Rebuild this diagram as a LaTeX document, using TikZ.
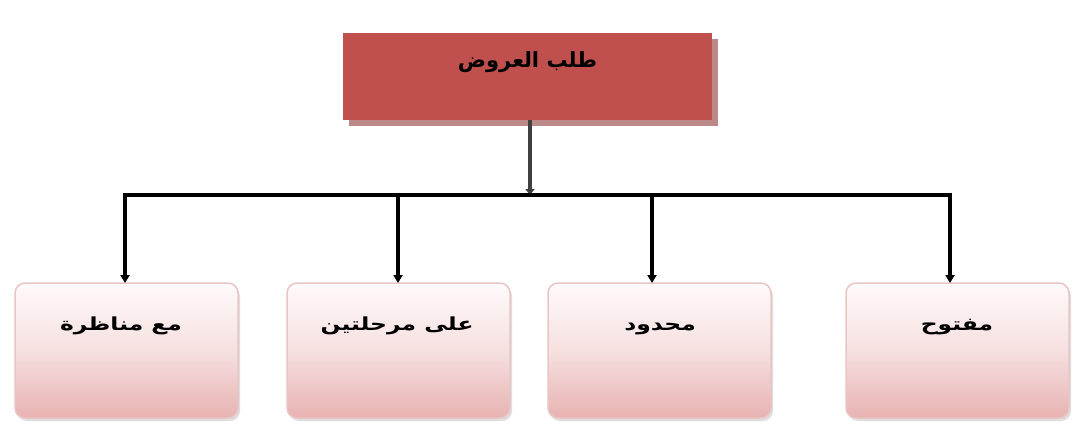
\documentclass[tikz,border=0pt]{standalone}
\usepackage{fontspec}
\newfontfamily\arabicfont[Script=Arabic]{DejaVu Sans}
\TeXXeTstate=1
\usetikzlibrary{shadows,arrows.meta}
\definecolor{topred}{HTML}{C0504D}
\definecolor{topshadow}{HTML}{8E3B39}
\definecolor{pinkbot}{HTML}{E8B2B2}
\definecolor{pinkmid}{HTML}{F6E0E0}
\definecolor{pinktop}{HTML}{FFFAFA}
\definecolor{pinkedge}{HTML}{E9C6C6}
\definecolor{linegray}{HTML}{404040}
\begin{document}
\begin{tikzpicture}[x=1pt,y=-1pt,
  headbox/.style={draw=none,fill=topred,minimum width=369pt,minimum height=87pt,inner sep=0pt,
    drop shadow={shadow xshift=6pt,shadow yshift=-6pt,fill=topshadow,opacity=0.6}},
  leafbox/.style={draw=pinkedge,line width=1.5pt,rounded corners=10pt,minimum width=223pt,minimum height=135pt,inner sep=0pt,
    top color=pinktop,bottom color=pinkbot,middle color=pinkmid,
    drop shadow={shadow xshift=2pt,shadow yshift=-3pt,fill=black!25,opacity=0.5}},
  headtext/.style={font=\arabicfont\bfseries\fontsize{21}{25}\selectfont,inner sep=0pt,anchor=base},
  leaftext/.style={font=\arabicfont\bfseries\fontsize{18}{22}\selectfont,inner sep=0pt,xscale=1.3,anchor=base},
  conn/.style={line width=3.5pt,black},
  drop/.style={line width=3.5pt,black,-{Triangle[length=8pt,width=9pt]}}]
\useasboundingbox (0,0) rectangle (1075,425);
\fill[white] (0,0) rectangle (1075,425);
% top
\node[headbox] (top) at (527.5,76.5) {};
\node[headtext] (toptext) at (527.5,68) {\beginR طلب العروض\endR};
% leaves
\node[leafbox] (l1) at (126.5,350.5) {};
\node[leafbox] (l2) at (398.5,350.5) {};
\node[leafbox] (l3) at (659.5,350.5) {};
\node[leafbox] (l4) at (957.5,350.5) {};
\node[leaftext] (t1) at (121,330) {\beginR مع مناظرة\endR};
\node[leaftext] (t2) at (397,330) {\beginR على مرحلتين\endR};
\node[leaftext] (t3) at (660,330) {\beginR محدود\endR};
\node[leaftext] (t4) at (957,330) {\beginR مفتوح\endR};
% connectors
\coordinate (hub) at (530,195);
\coordinate (hl) at (125,195);
\coordinate (hr) at (950,195);
\coordinate (d1) at (125,195);
\coordinate (d2) at (398,195);
\coordinate (d3) at (652,195);
\coordinate (d4) at (950,195);
\coordinate (e1) at (125,283);
\coordinate (e2) at (398,283);
\coordinate (e3) at (652,283);
\coordinate (e4) at (950,283);
\draw[line width=4.5pt,linegray,-{Triangle[length=6pt,width=9pt]}] (top.south -| hub) -- (hub);
\draw[conn] ([xshift=-1.75pt]hl) -- ([xshift=1.75pt]hr);
\draw[drop] (d1) -- (e1);
\draw[drop] (d2) -- (e2);
\draw[drop] (d3) -- (e3);
\draw[drop] (d4) -- (e4);
\end{tikzpicture}
\end{document}
